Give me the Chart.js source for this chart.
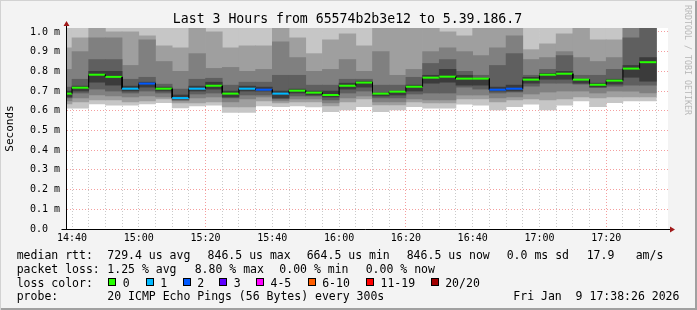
<!DOCTYPE html>
<html>
<head>
<meta charset="utf-8">
<script src="https://cdn.jsdelivr.net/npm/chart.js@4.4.1/dist/chart.umd.min.js"></script>
<style>
  html, body { margin: 0; padding: 0; background: #f3f3f3; }
  #wrap { position: relative; width: 697px; height: 310px; background: #f3f3f3; overflow: hidden;
          box-shadow: inset 1px 1px 0 #d2d2d2, inset -2px -2px 0 #a0a0a0; }
  canvas { position: absolute; left: 0; top: 0; }
  .t { position: absolute; font-family: 'DejaVu Sans Mono', monospace; white-space: pre; color: #000;
       font-size: 11.5px; line-height: 14px; }
  .box { position: absolute; width: 8px; height: 8px; box-sizing: border-box; border: 1px solid #000; }
</style>
</head>
<body>
<div id="wrap">
  <canvas id="c" width="697" height="310"></canvas>
  <div class="t" style="left:0; top:12px; width:695px; text-align:center; font-size:13.2px;">Last 3 Hours from 65574b2b3e12 to 5.39.186.7</div>
  <div class="t" style="left:627.5px; top:55px; width:120px; height:10px; line-height:10px; font-size:8.3px; color:#b8b8b8; text-align:center; transform:rotate(90deg);">RRDTOOL / TOBI OETIKER</div>
  <div id="legend"></div>
</div>
<script>
// x positions are minutes after 14:40, one slot per 5 minute step (first slot is cut by the left edge)
const xLabels = ['14:40', '15:00', '15:20', '15:40', '16:00', '16:20', '16:40', '17:00', '17:20'];
const yLabels = ['0.0', '0.1 m', '0.2 m', '0.3 m', '0.4 m', '0.5 m', '0.6 m', '0.7 m', '0.8 m', '0.9 m', '1.0 m'];

// median rtt per slot, ms
const median = [0.687, 0.717, 0.783, 0.772, 0.712, 0.738, 0.712, 0.6645, 0.712, 0.727, 0.687, 0.712,
  0.707, 0.687, 0.702, 0.692, 0.680, 0.727, 0.743, 0.687, 0.697, 0.722, 0.768, 0.773,
  0.763, 0.763, 0.707, 0.712, 0.758, 0.783, 0.788, 0.758, 0.732, 0.753, 0.814, 0.8465];
// lost pings out of 20 per slot
const lost = [0, 0, 0, 0, 1, 2, 0, 1, 1, 0, 0, 1,
  2, 1, 0, 0, 0, 0, 0, 0, 0, 0, 0, 0,
  0, 0, 2, 2, 0, 0, 0, 0, 0, 0, 0, 0];

// smoke: outer range and nested bands (lightest -> darkest)
const smokeMin = [0.613, 0.613, 0.635, 0.629, 0.629, 0.635, 0.641, 0.615, 0.624, 0.629, 0.592, 0.592,
  0.624, 0.621, 0.625, 0.620, 0.596, 0.604, 0.621, 0.596, 0.604, 0.621, 0.613, 0.613,
  0.633, 0.629, 0.604, 0.621, 0.634, 0.604, 0.629, 0.650, 0.621, 0.641, 0.650, 0.650];
const smokeMax = [1.04, 1.04, 1.04, 1.04, 1.04, 1.04, 1.04, 1.04, 1.04, 1.04, 1.04, 1.04,
  1.04, 1.04, 1.04, 1.04, 1.04, 1.04, 1.04, 1.04, 1.04, 1.04, 1.04, 1.04,
  1.04, 1.04, 1.04, 1.04, 1.04, 1.04, 1.04, 1.04, 1.04, 1.04, 1.04, 1.04];
const band2Lo = [0.635, 0.645, 0.655, 0.655, 0.645, 0.650, 0.660, 0.640, 0.640, 0.645, 0.620, 0.620,
  0.650, 0.640, 0.645, 0.645, 0.625, 0.645, 0.660, 0.630, 0.630, 0.645, 0.640, 0.640,
  0.660, 0.660, 0.645, 0.655, 0.660, 0.655, 0.660, 0.670, 0.665, 0.670, 0.670, 0.670];
const band2Hi = [0.92, 0.97, 1.04, 1.00, 1.00, 0.98, 0.93, 0.92, 1.04, 1.00, 0.92, 0.93,
  0.93, 1.04, 0.97, 0.89, 0.96, 0.99, 0.93, 1.04, 1.04, 1.04, 1.04, 1.00,
  0.98, 1.04, 1.04, 1.04, 0.91, 0.94, 0.99, 1.04, 0.96, 0.96, 1.04, 1.04];
const band3Lo = [0.650, 0.665, 0.680, 0.675, 0.670, 0.675, 0.670, 0.650, 0.665, 0.670, 0.645, 0.660,
  0.670, 0.650, 0.660, 0.660, 0.640, 0.665, 0.675, 0.645, 0.645, 0.660, 0.655, 0.655,
  0.680, 0.680, 0.665, 0.670, 0.685, 0.695, 0.700, 0.700, 0.690, 0.700, 0.700, 0.690];
const band3Hi = [0.81, 0.90, 0.97, 0.97, 0.83, 0.96, 0.85, 0.80, 0.89, 0.815, 0.82, 0.80,
  0.81, 0.95, 0.87, 0.80, 0.81, 0.86, 0.80, 0.90, 0.78, 0.81, 0.90, 0.92,
  0.90, 0.88, 0.92, 0.98, 0.86, 0.87, 0.90, 0.87, 0.85, 0.87, 1.04, 1.04];
const band4Lo = [0.665, 0.690, 0.710, 0.700, 0.690, 0.700, 0.690, 0.655, 0.685, 0.690, 0.665, 0.680,
  0.680, 0.660, 0.675, 0.675, 0.655, 0.690, 0.700, 0.665, 0.665, 0.685, 0.690, 0.690,
  0.720, 0.710, 0.690, 0.695, 0.725, 0.740, 0.740, 0.735, 0.720, 0.725, 0.730, 0.730];
const band4Hi = [0.72, 0.76, 0.86, 0.86, 0.76, 0.77, 0.735, 0.71, 0.76, 0.765, 0.73, 0.745,
  0.745, 0.78, 0.78, 0.73, 0.73, 0.76, 0.76, 0.73, 0.73, 0.77, 0.84, 0.86,
  0.80, 0.78, 0.83, 0.89, 0.78, 0.81, 0.88, 0.78, 0.78, 0.81, 0.97, 1.04];
const coreLo = [0.670, 0.700, 0.745, 0.730, 0.700, 0.720, 0.700, 0.660, 0.700, 0.710, 0.670, 0.700,
  0.700, 0.665, 0.690, 0.680, 0.670, 0.710, 0.720, 0.675, 0.680, 0.700, 0.740, 0.745,
  0.730, 0.730, 0.700, 0.700, 0.740, 0.760, 0.760, 0.740, 0.720, 0.735, 0.770, 0.750];
const coreHi = [0.700, 0.725, 0.800, 0.800, 0.725, 0.745, 0.720, 0.680, 0.725, 0.745, 0.700, 0.725,
  0.720, 0.700, 0.710, 0.700, 0.700, 0.740, 0.750, 0.690, 0.700, 0.730, 0.780, 0.810,
  0.780, 0.765, 0.720, 0.730, 0.770, 0.790, 0.800, 0.760, 0.740, 0.760, 0.830, 0.870];

const lossNames = ['0', '1', '2', '3', '4-5', '6-10', '11-19', '20/20'];
const lossColors = ['#26ff00', '#00b8ff', '#0059ff', '#5e00ff', '#ff00ff', '#ff5e00', '#ff0000', '#a10000'];
const lossColor = n => lossColors[n <= 3 ? n : n <= 5 ? 4 : n <= 10 ? 5 : n < 20 ? 6 : 7];

const FONT = 'DejaVu Sans Mono';
const MAJOR = 'rgba(235, 80, 80, 0.55)';
const MINOR = 'rgba(150, 150, 150, 0.5)';

const slotStart = median.map((_, i) => 5 * i - 5);
const gridMinutes = [];
for (let m = 0; m <= 175; m += 5) gridMinutes.push(m);

const band = (lo, hi, color, order) => ({
  type: 'bar',
  data: lo.map((v, i) => ({ x: slotStart[i] + 2.5, y: [v, hi[i]] })),
  backgroundColor: color,
  borderWidth: 0,
  grouped: false,
  barPercentage: 1,
  categoryPercentage: 1,
  order,
});

const medianPts = [];
median.forEach((m, i) => medianPts.push({ x: slotStart[i], y: m }, { x: slotStart[i] + 5, y: m }));

const plotBg = {
  id: 'plotBg',
  beforeDraw(chart) {
    const { ctx, chartArea: a } = chart;
    ctx.save();
    ctx.fillStyle = '#fff';
    ctx.fillRect(a.left, a.top, a.right - a.left, a.bottom - a.top);
    ctx.restore();
  },
};

const axes = {
  id: 'axes',
  afterDraw(chart) {
    const { ctx, chartArea: a } = chart;
    const x0 = Math.round(a.left) - 0.5, y0 = Math.round(a.bottom) + 0.5;
    ctx.save();
    ctx.strokeStyle = '#000';
    ctx.lineWidth = 1;
    ctx.beginPath();
    ctx.moveTo(x0, a.top - 4); ctx.lineTo(x0, y0);
    ctx.moveTo(x0 - 5, y0); ctx.lineTo(a.right + 2, y0);
    ctx.stroke();
    ctx.fillStyle = '#a11a1a';
    ctx.beginPath();
    ctx.moveTo(x0, a.top - 7); ctx.lineTo(x0 - 3, a.top - 2); ctx.lineTo(x0 + 3, a.top - 2); ctx.closePath();
    ctx.moveTo(a.right + 7, y0); ctx.lineTo(a.right + 2, y0 - 3); ctx.lineTo(a.right + 2, y0 + 3); ctx.closePath();
    ctx.fill();
    ctx.restore();
  },
};

new Chart(document.getElementById('c'), {
  type: 'bar',
  data: {
    datasets: [
      {
        type: 'line',
        data: medianPts,
        pointRadius: 0,
        tension: 0,
        fill: false,
        borderColor: '#000',
        borderWidth: 2,
        segment: {
          borderColor: c => (c.p0DataIndex % 2 === 0 ? lossColor(lost[c.p0DataIndex / 2]) : '#000'),
          borderWidth: c => (c.p0DataIndex % 2 === 0 ? 2 : 1),
        },
        order: 0,
      },
      band(coreLo, coreHi, '#3b3b3b', 1),
      band(band4Lo, band4Hi, '#5f5f5f', 2),
      band(band3Lo, band3Hi, '#808080', 3),
      band(band2Lo, band2Hi, '#9f9f9f', 4),
      band(smokeMin, smokeMax, '#c6c6c6', 5),
    ],
  },
  options: {
    responsive: false,
    animation: false,
    events: [],
    layout: { padding: { left: 0, top: 28, right: 29, bottom: 61 } },
    plugins: { legend: { display: false }, tooltip: { enabled: false } },
    scales: {
      x: {
        type: 'linear', min: -1.5, max: 178.5, z: 1, offset: false,
        afterBuildTicks: s => { s.ticks = gridMinutes.map(v => ({ value: v })); },
        afterFit: s => { s.height = 20; },
        grid: { offset: false, color: c => (c.tick && c.tick.value % 60 === 40 ? MAJOR : MINOR), drawTicks: false },
        border: { display: false, dash: [1, 2] },
        ticks: {
          autoSkip: false, maxRotation: 0, padding: 3, color: '#000',
          font: { family: FONT, size: 10 },
          callback: v => (v % 20 === 0 ? xLabels[v / 20] : ''),
        },
      },
      y: {
        min: 0, max: 1.02, z: 1,
        afterFit: s => { s.width = 67; },
        grid: { color: MAJOR, drawTicks: false },
        border: { display: false, dash: [1, 2] },
        ticks: {
          stepSize: 0.1, includeBounds: false, padding: 7, color: '#000',
          font: { family: FONT, size: 10 },
          callback: (v, i) => yLabels[i].padEnd(5),
        },
        title: { display: true, text: 'Seconds', color: '#000', font: { family: FONT, size: 11 }, padding: { top: 4, bottom: 0 } },
      },
    },
  },
  plugins: [plotBg, axes],
});

// legend block under the plot
const legend = document.getElementById('legend');
const put = (x, y, text) => {
  const d = document.createElement('div');
  d.className = 't';
  d.style.left = x + 'px';
  d.style.top = (y - 7) + 'px';
  d.textContent = text;
  legend.appendChild(d);
};
[[16.7, 'median rtt:'], [107.3, '729.4 us avg'], [207.6, '846.5 us max'], [306.7, '664.5 us min'],
 [406.7, '846.5 us now'], [506.7, '0.0 ms sd'], [586.7, '17.9'], [635.7, 'am/s']].forEach(([x, s]) => put(x, 255, s));
[[16.7, 'packet loss:'], [107.3, '1.25 % avg'], [194.7, '8.80 % max'], [279.3, '0.00 % min'],
 [365.7, '0.00 % now']].forEach(([x, s]) => put(x, 268.5, s));
put(16.7, 282.5, 'loss color:');
const boxX = [108.3, 145.7, 182.7, 219.3, 256, 307.7, 366, 430.7];
lossNames.forEach((name, i) => {
  const b = document.createElement('div');
  b.className = 'box';
  b.style.left = boxX[i] + 'px';
  b.style.top = '278px';
  b.style.background = lossColors[i];
  legend.appendChild(b);
  put(boxX[i] + 14.5, 282.5, name);
});
put(16.7, 296, 'probe:');
put(107.3, 296, '20 ICMP Echo Pings (56 Bytes) every 300s');
put(513.3, 296, 'Fri Jan  9 17:38:26 2026');
</script>
</body>
</html>
